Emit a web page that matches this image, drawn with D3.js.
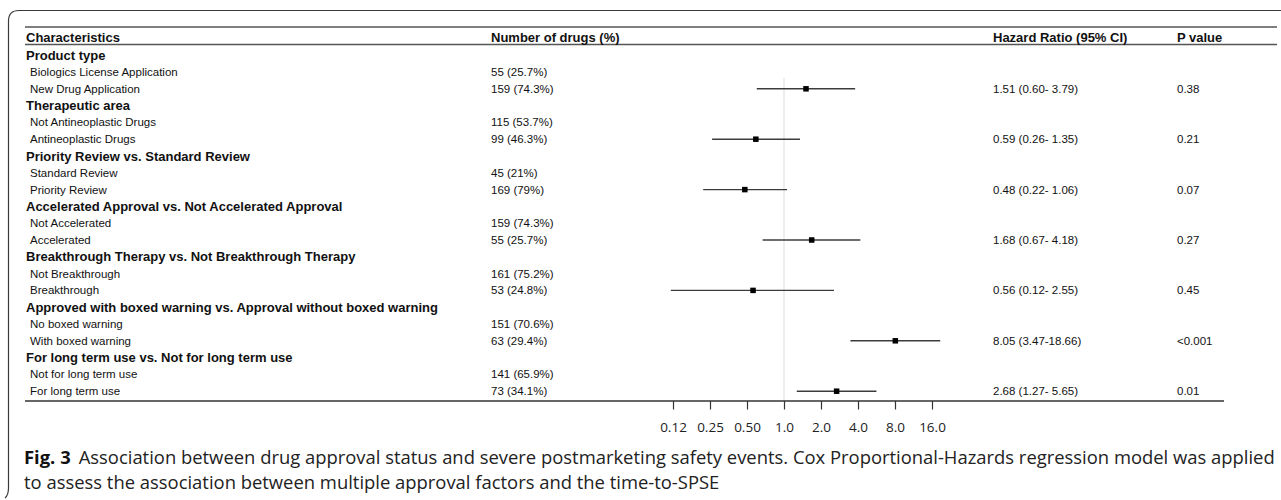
<!DOCTYPE html>
<html>
<head>
<meta charset="utf-8">
<script src="https://cdn.jsdelivr.net/npm/d3@7"></script>
<style>
  html, body { margin: 0; padding: 0; background: #fff; }
  svg { display: block; }
</style>
</head>
<body>
<svg id="chart" width="1281" height="500"></svg>
<script>
// ---------------- DATA ----------------
const groupTitles = [
  "Product type",
  "Therapeutic area",
  "Priority Review vs. Standard Review",
  "Accelerated Approval vs. Not Accelerated Approval",
  "Breakthrough Therapy vs. Not Breakthrough Therapy",
  "Approved with boxed warning vs. Approval without boxed warning",
  "For long term use vs. Not for long term use"
];
const refLabels = [
  "Biologics License Application",
  "Not Antineoplastic Drugs",
  "Standard Review",
  "Not Accelerated",
  "Not Breakthrough",
  "No boxed warning",
  "Not for long term use"
];
const compLabels = [
  "New Drug Application",
  "Antineoplastic Drugs",
  "Priority Review",
  "Accelerated",
  "Breakthrough",
  "With boxed warning",
  "For long term use"
];
const refCounts = ["55 (25.7%)", "115 (53.7%)", "45 (21%)", "159 (74.3%)", "161 (75.2%)", "151 (70.6%)", "141 (65.9%)"];
const compCounts = ["159 (74.3%)", "99 (46.3%)", "169 (79%)", "55 (25.7%)", "53 (24.8%)", "63 (29.4%)", "73 (34.1%)"];
const hazardRatios = [1.51, 0.59, 0.48, 1.68, 0.56, 8.05, 2.68];
const ciLower = [0.60, 0.26, 0.22, 0.67, 0.12, 3.47, 1.27];
const ciUpper = [3.79, 1.35, 1.06, 4.18, 2.55, 18.66, 5.65];
const pValues = ["0.38", "0.21", "0.07", "0.27", "0.45", "<0.001", "0.01"];
const columnHeaders = ["Characteristics", "Number of drugs (%)", "Hazard Ratio (95% CI)", "P value"];
const tickValues = [0.125, 0.25, 0.5, 1, 2, 4, 8, 16];
const tickLabels = ["0.12", "0.25", "0.50", "1.0", "2.0", "4.0", "8.0", "16.0"];
const captionBold = "Fig. 3";
const captionLine1 = "Association between drug approval status and severe postmarketing safety events. Cox Proportional-Hazards regression model was applied";
const captionLine2 = "to assess the association between multiple approval factors and the time-to-SPSE";

// ---------------- BUILD ROWS ----------------
const rows = [];
groupTitles.forEach((g, i) => {
  rows.push({ type: "group", label: g });
  rows.push({ type: "ref", label: refLabels[i], count: refCounts[i] });
  rows.push({ type: "comp", label: compLabels[i], count: compCounts[i], idx: i });
});

const svg = d3.select("#chart");
const tableFont = "'Liberation Sans', Arial, sans-serif";

// Scales
const y = d3.scaleLinear().domain([0, rows.length - 1]).range([55.2, 55.2 + 16.8 * (rows.length - 1)]);
const x = d3.scaleLog().base(2).domain([0.125, 16]).range([673, 932]);

const colX = { label: 26, sub: 30, count: 491, hr: 993, p: 1177 };
const tableLeft = 25, tableRight = 1277, axisRight = 1224;
const headerY = 37, topLineY = 27, headerLineY = 44.5, bottomLineY = 401;

// Frame
svg.append("path")
  .attr("d", `M1281,10.5 H19 Q8.5,10.5 8.5,21 V488 Q8.5,495 5,498`)
  .attr("fill", "none").attr("stroke", "#3a3a3a").attr("stroke-width", 1.2);

// Table lines
svg.append("line").attr("x1", tableLeft).attr("x2", tableRight).attr("y1", topLineY).attr("y2", topLineY)
  .attr("stroke", "#555").attr("stroke-width", 1.6);
svg.append("line").attr("x1", tableLeft).attr("x2", tableRight).attr("y1", headerLineY).attr("y2", headerLineY)
  .attr("stroke", "#555").attr("stroke-width", 1.6);

// Reference line at HR = 1
svg.append("line").attr("x1", x(1)).attr("x2", x(1)).attr("y1", 78).attr("y2", bottomLineY)
  .attr("stroke", "#e3e3e3").attr("stroke-width", 1.2);

// Column headers
const hdr = svg.append("g").attr("font-family", tableFont).attr("font-weight", "bold").attr("font-size", 13).attr("fill", "#111");
[colX.label, colX.count, colX.hr, colX.p].forEach((cx, i) => {
  hdr.append("text").attr("x", cx).attr("y", headerY).attr("dy", "0.35em").text(columnHeaders[i]);
});

// Row labels
const rowG = svg.append("g").attr("fill", "#111").attr("font-family", tableFont);
rowG.selectAll("text.lab").data(rows).join("text")
  .attr("class", "lab")
  .attr("x", d => d.type === "group" ? colX.label : colX.sub)
  .attr("y", (d, i) => y(i))
  .attr("dy", "0.35em")
  .attr("font-weight", d => d.type === "group" ? "bold" : "normal")
  .attr("font-size", d => d.type === "group" ? 13 : 11.5)
  .text(d => d.label);

rowG.selectAll("text.cnt").data(rows.filter(d => d.count)).join("text")
  .attr("class", "cnt")
  .attr("x", colX.count)
  .attr("y", d => y(rows.indexOf(d)))
  .attr("dy", "0.35em")
  .attr("font-size", 11.5)
  .text(d => d.count);

const comps = rows.filter(d => d.type === "comp");
const fmt = v => v.toFixed(2);
const hrText = i => `${fmt(hazardRatios[i])} (${fmt(ciLower[i])}-${ciUpper[i] < 10 ? " " : ""}${fmt(ciUpper[i])})`;

rowG.selectAll("text.hr").data(comps).join("text")
  .attr("class", "hr")
  .attr("x", colX.hr)
  .attr("y", d => y(rows.indexOf(d)))
  .attr("dy", "0.35em")
  .attr("font-size", 11.5)
  .style("white-space", "pre")
  .text(d => hrText(d.idx));

rowG.selectAll("text.pv").data(comps).join("text")
  .attr("class", "pv")
  .attr("x", colX.p)
  .attr("y", d => y(rows.indexOf(d)))
  .attr("dy", "0.35em")
  .attr("font-size", 11.5)
  .text(d => pValues[d.idx]);

// CI lines and squares
const marks = svg.append("g");
marks.selectAll("line.ci").data(comps).join("line")
  .attr("class", "ci")
  .attr("x1", d => x(ciLower[d.idx]))
  .attr("x2", d => x(ciUpper[d.idx]))
  .attr("y1", d => y(rows.indexOf(d)))
  .attr("y2", d => y(rows.indexOf(d)))
  .attr("stroke", "#3c3c3c").attr("stroke-width", 1.4);
const sq = 5.5;
marks.selectAll("rect.pt").data(comps).join("rect")
  .attr("class", "pt")
  .attr("x", d => x(hazardRatios[d.idx]) - sq / 2)
  .attr("y", d => y(rows.indexOf(d)) - sq / 2)
  .attr("width", sq).attr("height", sq)
  .attr("fill", "#000");

// Bottom line + axis
svg.append("line").attr("x1", tableLeft).attr("x2", axisRight).attr("y1", bottomLineY).attr("y2", bottomLineY)
  .attr("stroke", "#333").attr("stroke-width", 1.4);

const axis = d3.axisBottom(x)
  .tickValues(tickValues)
  .tickFormat((d, i) => tickLabels[i])
  .tickSize(8.5)
  .tickPadding(13);
const axG = svg.append("g").attr("transform", `translate(0,${bottomLineY})`).call(axis);
axG.select(".domain").remove();
axG.selectAll(".tick line").attr("stroke", "#333").attr("stroke-width", 1.2);
axG.selectAll(".tick text").attr("font-family", "'Open Sans', 'Noto Sans', sans-serif").attr("font-size", 13.5).attr("fill", "#222");

// Caption
const capFont = "'Open Sans', 'Noto Sans', sans-serif";
const capX = 24;
const cap1 = svg.append("text").attr("x", capX).attr("y", 464).attr("font-family", capFont).attr("font-size", 16.5).attr("fill", "#222");
cap1.append("tspan").attr("font-weight", "bold").attr("fill", "#111").text(captionBold);
cap1.append("tspan").attr("dx", 8).text(captionLine1);
const cap2 = svg.append("text").attr("x", capX).attr("y", 489).attr("font-family", capFont).attr("font-size", 16.5).attr("fill", "#222").text(captionLine2);

// fit caption to target width
const w1 = cap1.node().getComputedTextLength();
const target = 1267 - capX;
const fs = 16.5 * target / w1;
cap1.attr("font-size", fs);
cap2.attr("font-size", fs);
</script>
</body>
</html>
